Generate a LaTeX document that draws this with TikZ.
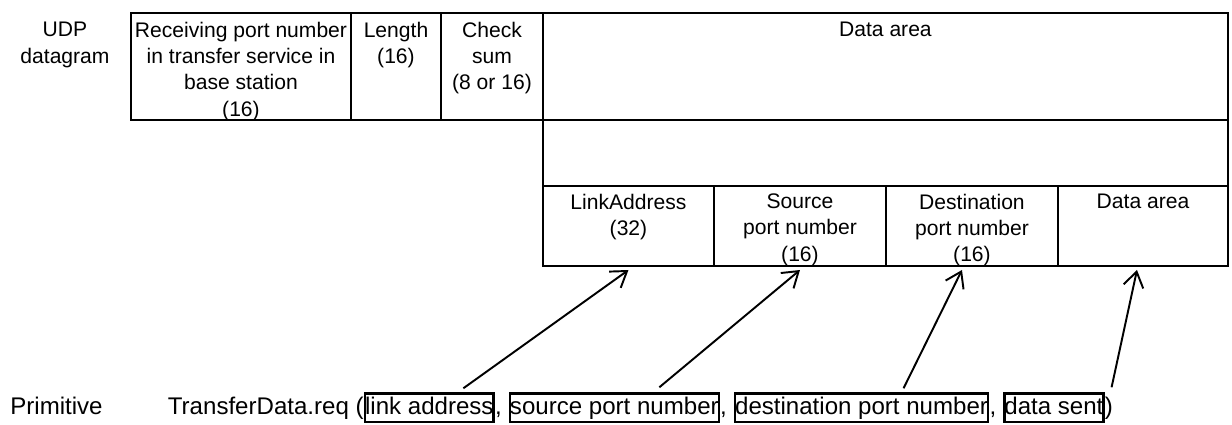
\documentclass[tikz,border=0pt]{standalone}
\usepackage{fontspec}
\setmainfont{Liberation Sans}
\usetikzlibrary{arrows.meta,positioning}

\begin{document}
\begin{tikzpicture}[x=0.02cm,y=-0.02cm,
  cell/.style={draw,line width=1.5pt,inner sep=0pt,outer sep=0pt,anchor=north west},
  celltext/.style={align=center,inner sep=0pt,font=\fontsize{12}{15}\selectfont},
  ptxt/.style={inner xsep=0pt,inner ysep=1pt,text height=11pt,text depth=3.2pt,
    font=\fontsize{13.7}{16}\selectfont},
  pbox/.style={ptxt,draw,line width=1.3pt},
  link/.style={-{Straight Barb[length=0.3cm,width=0.4cm]},line width=1.1pt}]
\useasboundingbox (0,0) rectangle (1232,424);

% UDP datagram
\node[celltext,anchor=north] (udplbl) at (65,22) {UDP\\datagram};
\node[cell,minimum width=4.4cm,minimum height=2.14cm] (recv) at (131,13) {};
\node[cell,minimum width=1.8cm,minimum height=2.14cm] (len) at (351,13) {};
\node[cell,minimum width=2.04cm,minimum height=2.14cm] (chk) at (441,13) {};
\node[cell,minimum width=13.7cm,minimum height=2.14cm] (data) at (543,13) {};
\node[celltext,below=0.17cm of recv.north] (recvtxt)
  {Receiving port number\\in transfer service in\\base station\\(16)};
\node[celltext,below=0.17cm of len.north] (lentxt) {Length\\(16)};
\node[celltext,below=0.17cm of chk.north] (chktxt) {Check\\sum\\(8 or 16)};
\node[celltext,below=0.17cm of data.north] (datatxt) {Data area};

% data area split
\node[cell,minimum width=13.7cm,minimum height=1.32cm] (mid) at (543,120) {};
\node[cell,minimum width=3.42cm,minimum height=1.6cm] (lacell) at (543,186) {};
\node[cell,minimum width=3.44cm,minimum height=1.6cm] (srccell) at (714,186) {};
\node[cell,minimum width=3.44cm,minimum height=1.6cm] (dstcell) at (886,186) {};
\node[cell,minimum width=3.4cm,minimum height=1.6cm] (datcell) at (1058,186) {};
\node[celltext,below=0.15cm of lacell.north] (latxt) {LinkAddress\\(32)};
\node[celltext,below=0.15cm of srccell.north] (srctxt) {Source\\port number\\(16)};
\node[celltext,below=0.15cm of dstcell.north] (dsttxt) {Destination\\port number\\(16)};
\node[celltext,below=0.15cm of datcell.north] (dattxt) {Data area};

% primitive
\node[ptxt,anchor=base west] (pprim) at (10,414.5) {Primitive};
\node[pbox,anchor=base west] (plink) at (364,414.5) {link address};
\node[ptxt,left=0pt of plink] (preq) {TransferData.req (};
\node[ptxt,right=0pt of plink] (pc1) {,\rule{0.28em}{0pt}};
\node[pbox,right=0pt of pc1] (psrc) {source port number};
\node[ptxt,right=0pt of psrc] (pc2) {,\rule{0.28em}{0pt}};
\node[pbox,right=0pt of pc2] (pdst) {destination port number};
\node[ptxt,right=0pt of pdst] (pc3) {,\rule{0.28em}{0pt}};
\node[pbox,right=0pt of pc3] (pdat) {data sent};
\node[ptxt,right=0pt of pdat] (pend) {)};

\draw[link] ([shift={(34,-4)}]plink.north) -- ([shift={(0,4)}]lacell.south);
\draw[link] ([shift={(45,-5)}]psrc.north) -- ([shift={(0,4)}]srccell.south);
\draw[link] ([shift={(42,-4)}]pdst.north) -- ([shift={(-10,4)}]dstcell.south);
\draw[link] ([shift={(7,-5)}]pdat.north east) -- ([shift={(-6,4)}]datcell.south);
\end{tikzpicture}
\end{document}
